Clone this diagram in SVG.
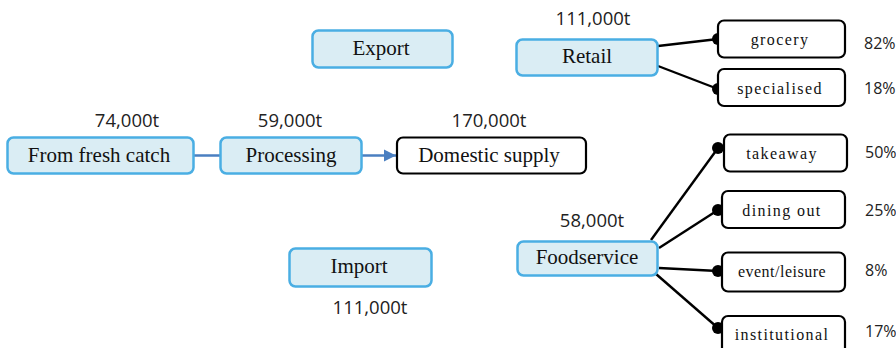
<svg xmlns="http://www.w3.org/2000/svg" width="896" height="348" viewBox="0 0 896 348">
  <style>
    .flow rect { fill: #daedf4; stroke: #4aaee3; stroke-width: 2.5; }
    .plain rect { fill: #ffffff; stroke: #000000; stroke-width: 2.2; }
    .lbl { font-family: "Liberation Serif", "Times New Roman", serif; font-size: 21px; fill: #111; text-anchor: middle; }
    .sub { font-family: "Liberation Serif", "Times New Roman", serif; font-size: 16px; fill: #111; text-anchor: middle; letter-spacing: 1.4px; }
    .qty { font-family: "Open Sans", "Liberation Sans", sans-serif; font-size: 18.5px; fill: #222; text-anchor: middle; }
    .pct { font-family: "Open Sans", "Liberation Sans", sans-serif; font-size: 16px; fill: #222; }
    .link { stroke: #000; stroke-width: 2.4; fill: none; }
    .flowline { stroke: #4a7fc1; stroke-width: 2.5; fill: none; }
    .dot { fill: #000; }
  </style>
  <defs>
    <marker id="arrow" viewBox="0 0 10 10" refX="10" refY="5" markerWidth="5" markerHeight="5" markerUnits="strokeWidth" orient="auto">
      <path d="M0,0 L10,5 L0,10 z" fill="#4a7fc1"/>
    </marker>
  </defs>

  <!-- connectors -->
  <g id="connectors">
    <line class="flowline" x1="194" y1="155.5" x2="220" y2="155.5"/>
    <line class="flowline" x1="362" y1="155.5" x2="396" y2="155.5" marker-end="url(#arrow)"/>
    <line class="link" x1="658" y1="46" x2="718" y2="39"/>
    <line class="link" x1="658" y1="66" x2="718" y2="89"/>
    <line class="link" x1="651" y1="240" x2="718" y2="148"/>
    <line class="link" x1="659" y1="248" x2="718" y2="210"/>
    <line class="link" x1="659" y1="268" x2="718" y2="271"/>
    <line class="link" x1="656" y1="274" x2="718" y2="328"/>
    <circle class="dot" cx="718" cy="39" r="6"/>
    <circle class="dot" cx="718" cy="89" r="6"/>
    <circle class="dot" cx="718" cy="148" r="6"/>
    <circle class="dot" cx="718" cy="210" r="6"/>
    <circle class="dot" cx="718" cy="271" r="6"/>
    <circle class="dot" cx="718" cy="328" r="6"/>
  </g>

  <!-- main flow -->
  <g id="fresh-catch" class="flow">
    <rect x="7.5" y="137.5" width="186" height="36" rx="6"/>
    <text class="lbl" x="99" y="162">From fresh catch</text>
    <text class="qty" x="127" y="127">74,000t</text>
  </g>
  <g id="processing" class="flow">
    <rect x="220.5" y="137.5" width="141" height="36" rx="6"/>
    <text class="lbl" x="291" y="162">Processing</text>
    <text class="qty" x="290" y="127">59,000t</text>
  </g>
  <g id="domestic-supply" class="plain">
    <rect x="397" y="137.5" width="189" height="36" rx="6"/>
    <text class="lbl" x="489" y="162">Domestic supply</text>
    <text class="qty" x="489" y="127">170,000t</text>
  </g>
  <g id="export" class="flow">
    <rect x="312.5" y="30.5" width="140" height="37" rx="6"/>
    <text class="lbl" x="381" y="55">Export</text>
  </g>
  <g id="import" class="flow">
    <rect x="289.5" y="248.5" width="142" height="38" rx="6"/>
    <text class="lbl" x="359" y="273">Import</text>
    <text class="qty" x="370" y="314">111,000t</text>
  </g>

  <!-- retail branch -->
  <g id="retail" class="flow">
    <rect x="516.5" y="39.5" width="141" height="36" rx="6"/>
    <text class="lbl" x="587" y="63">Retail</text>
    <text class="qty" x="593" y="25">111,000t</text>
  </g>
  <g id="grocery" class="plain">
    <rect x="718" y="20.5" width="127" height="37" rx="6"/>
    <text class="sub" x="780" y="45">grocery</text>
    <text class="pct" x="864" y="49">82%</text>
  </g>
  <g id="specialised" class="plain">
    <rect x="718" y="69" width="127" height="37" rx="6"/>
    <text class="sub" x="780" y="94">specialised</text>
    <text class="pct" x="864" y="94">18%</text>
  </g>

  <!-- foodservice branch -->
  <g id="foodservice" class="flow">
    <rect x="517.5" y="241.5" width="140" height="34" rx="6"/>
    <text class="lbl" x="587" y="264">Foodservice</text>
    <text class="qty" x="592" y="227">58,000t</text>
  </g>
  <g id="takeaway" class="plain">
    <rect x="724" y="134.5" width="123" height="37" rx="6"/>
    <text class="sub" x="782" y="159">takeaway</text>
    <text class="pct" x="865" y="158">50%</text>
  </g>
  <g id="dining-out" class="plain">
    <rect x="722" y="191" width="123" height="37" rx="6"/>
    <text class="sub" x="782" y="216">dining out</text>
    <text class="pct" x="865" y="216">25%</text>
  </g>
  <g id="event-leisure" class="plain">
    <rect x="722" y="252.5" width="123" height="39" rx="6"/>
    <text class="sub" x="782" y="277" style="letter-spacing:0.5px">event/leisure</text>
    <text class="pct" x="865" y="276">8%</text>
  </g>
  <g id="institutional" class="plain">
    <rect x="722" y="316" width="123" height="40" rx="6"/>
    <text class="sub" x="782" y="340">institutional</text>
    <text class="pct" x="865" y="337">17%</text>
  </g>
</svg>
